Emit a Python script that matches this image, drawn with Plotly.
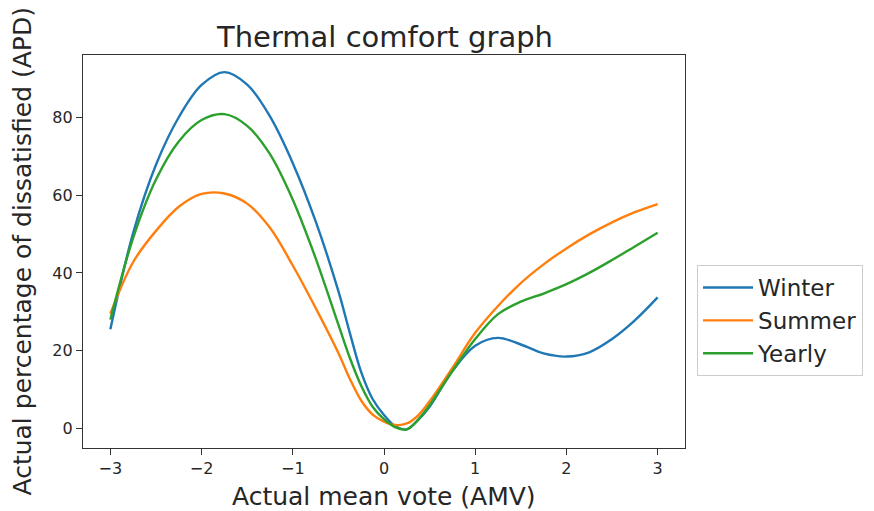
import plotly.graph_objects as go

amv = [-3.0, -2.75, -2.5, -2.25, -2.0, -1.75, -1.5, -1.25, -1.0, -0.75, -0.5, -0.375,
       -0.25, -0.125, 0.0, 0.125, 0.25, 0.375, 0.5, 0.75, 1.0, 1.25, 1.5, 1.75, 2.0,
       2.25, 2.5, 2.75, 3.0]

winter = [25.5, 50.3, 67.8, 80.0, 88.3, 91.6, 88.4, 80.2, 68.2, 53.3, 35.3, 24.6,
          14.5, 7.6, 3.5, 0.6, -0.2, 2.2, 5.6, 14.8, 21.3, 23.3, 21.6, 19.3, 18.5,
          19.6, 23.0, 27.8, 33.7]
summer = [29.5, 42.8, 50.8, 57.0, 60.3, 60.4, 57.8, 51.6, 41.9, 31.0, 19.4, 12.8,
          7.2, 3.6, 1.8, 0.9, 1.3, 3.4, 7.0, 15.6, 24.6, 31.5, 37.4, 42.2, 46.3,
          49.9, 53.0, 55.6, 57.7]
yearly = [28.0, 49.0, 64.0, 73.8, 79.3, 80.8, 77.8, 70.5, 58.8, 43.8, 26.7, 18.2,
          11.0, 5.6, 2.4, 0.3, -0.2, 2.3, 6.0, 14.8, 23.0, 29.4, 32.6, 34.7, 37.1,
          40.0, 43.3, 46.8, 50.3]

series = [("Winter", winter, "#1f77b4"), ("Summer", summer, "#ff7f0e"), ("Yearly", yearly, "#2ca02c")]

x_ticks = [-3, -2, -1, 0, 1, 2, 3]
y_ticks = [0, 20, 40, 60, 80]

FONT = "DejaVu Sans"
TXT = "#262626"

fig = go.Figure()
for name, vals, color in series:
    fig.add_trace(go.Scatter(x=amv, y=vals, mode="lines", name=name,
                             line=dict(color=color, width=2.4, shape="spline", smoothing=1.0)))

axis_common = dict(showgrid=False, zeroline=False, showline=True, linecolor="#333333",
                   linewidth=1.2, mirror=True, ticks="outside", ticklen=6, tickwidth=1.2,
                   tickcolor="#333333", tickfont=dict(family=FONT, size=16, color=TXT))

fig.update_layout(
    width=866, height=503,
    paper_bgcolor="white", plot_bgcolor="white",
    margin=dict(l=75, r=189, t=47, b=63, autoexpand=False),
    font=dict(family=FONT, color=TXT),
    xaxis=dict(range=[-3.3, 3.3], tickvals=x_ticks, **axis_common),
    yaxis=dict(range=[-5.0, 96.0], tickvals=y_ticks, **axis_common),
    legend=dict(x=1.02, y=0.4656, xanchor="left", yanchor="top",
                bordercolor="#cccccc", borderwidth=1, bgcolor="white",
                font=dict(family=FONT, size=23, color=TXT),
                itemwidth=50),
    showlegend=True,
    annotations=[
        dict(text="Thermal comfort graph", xref="paper", yref="paper", x=0.5, y=1.0,
             xanchor="center", yanchor="middle", yshift=18, showarrow=False,
             font=dict(family=FONT, size=29, color=TXT)),
        dict(text="Actual mean vote (AMV)", xref="paper", yref="paper", x=0.5, y=0,
             xanchor="center", yanchor="middle", yshift=-48, showarrow=False,
             font=dict(family=FONT, size=25, color=TXT)),
        dict(text="Actual percentage of dissatisfied (APD)", xref="paper", yref="paper",
             x=0, y=0.5, xanchor="center", yanchor="middle", xshift=-61, textangle=-90,
             showarrow=False, font=dict(family=FONT, size=25, color=TXT)),
    ],
)

fig.write_html("out.html")
